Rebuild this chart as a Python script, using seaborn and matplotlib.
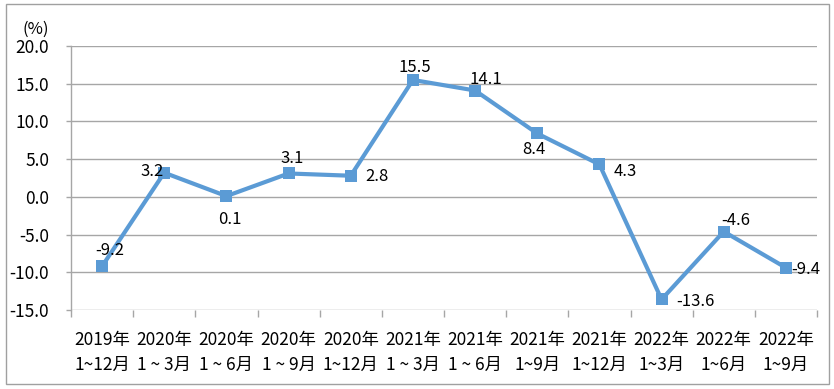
import matplotlib
matplotlib.use("Agg")
import matplotlib.pyplot as plt
import matplotlib.patches as mpatches
import seaborn as sns
import pandas as pd

periods = ["2019年\n1~12月", "2020年\n1 ~ 3月", "2020年\n1 ~ 6月", "2020年\n1 ~ 9月",
           "2020年\n1~12月", "2021年\n1 ~ 3月", "2021年\n1 ~ 6月", "2021年\n1~9月",
           "2021年\n1~12月", "2022年\n1~3月", "2022年\n1~6月", "2022年\n1~9月"]
values = [-9.2, 3.2, 0.1, 3.1, 2.8, 15.5, 14.1, 8.4, 4.3, -13.6, -4.6, -9.4]
yticks = [-15.0, -10.0, -5.0, 0.0, 5.0, 10.0, 15.0, 20.0]

# label offsets in pixels (dx right, dy down) from each marker
label_off_px = [(8, -16), (-12, -1), (3, 23), (4, -15), (26, 1), (2, -12),
                (11, -11), (-3, 16), (26, 7), (34, 2), (12, -11), (20, 2)]

sns.set_theme(style="white")
plt.rcParams["font.family"] = ["Noto Sans CJK SC", "DejaVu Sans"]

df = pd.DataFrame({"x": range(len(values)), "v": values})

fig = plt.figure(figsize=(8.34, 3.89), dpi=100)
ax = fig.add_axes([71/834, 1-310/389, (817-71)/834, (310-46)/389])

color = "#5B9BD5"
grid_c = "#A6A6A6"

sns.lineplot(data=df, x="x", y="v", ax=ax, color=color, linewidth=3,
             marker="s", markersize=8, markeredgewidth=0, zorder=3)
ax.set_xlabel("")
ax.set_ylabel("")

ax.set_xlim(-0.5, len(values) - 0.5)
ax.set_ylim(-15, 20)
ax.set_yticks(yticks)
ax.set_yticklabels([f"{t:.1f}" for t in yticks], fontsize=12.5, color="#000000")
for t in yticks:
    ax.axhline(t, color=grid_c, linewidth=1, zorder=1)

ax.set_xticks(range(len(values)))
ax.set_xticklabels(periods, fontsize=12.5, color="#000000", linespacing=1.5)
ax.tick_params(axis="x", length=0, pad=15)
ax.tick_params(axis="y", length=3.6, width=1, color=grid_c, pad=12, left=True)

for s in ["top", "right", "bottom"]:
    ax.spines[s].set_visible(False)
ax.spines["left"].set_color(grid_c)
ax.spines["left"].set_linewidth(1)

# category boundary ticks on the zero line
sec = ax.secondary_xaxis(0)
sec.set_xticks([i - 0.5 for i in range(len(values) + 1)])
sec.set_xticklabels([])
sec.tick_params(axis="x", length=5, color=grid_c, width=1, direction="out")
sec.spines["bottom"].set_visible(False)

for i, (v, (dx, dy)) in enumerate(zip(values, label_off_px)):
    ax.annotate(f"{v:.1f}", (i, v), xytext=(dx * 0.72, -dy * 0.72),
                textcoords="offset points", ha="center", va="center",
                fontsize=12, color="#000000", zorder=4)

fig.text(22/834, 1-29/389, "(%)", fontsize=12, color="#000000", va="center", ha="left")

fig.patches.append(mpatches.Rectangle((6/834, 1-384/389), (829-6)/834, (384-4)/389,
                                      transform=fig.transFigure, fill=False,
                                      edgecolor="#A0A0A0", linewidth=1))

fig.savefig("out.png", dpi=100)
